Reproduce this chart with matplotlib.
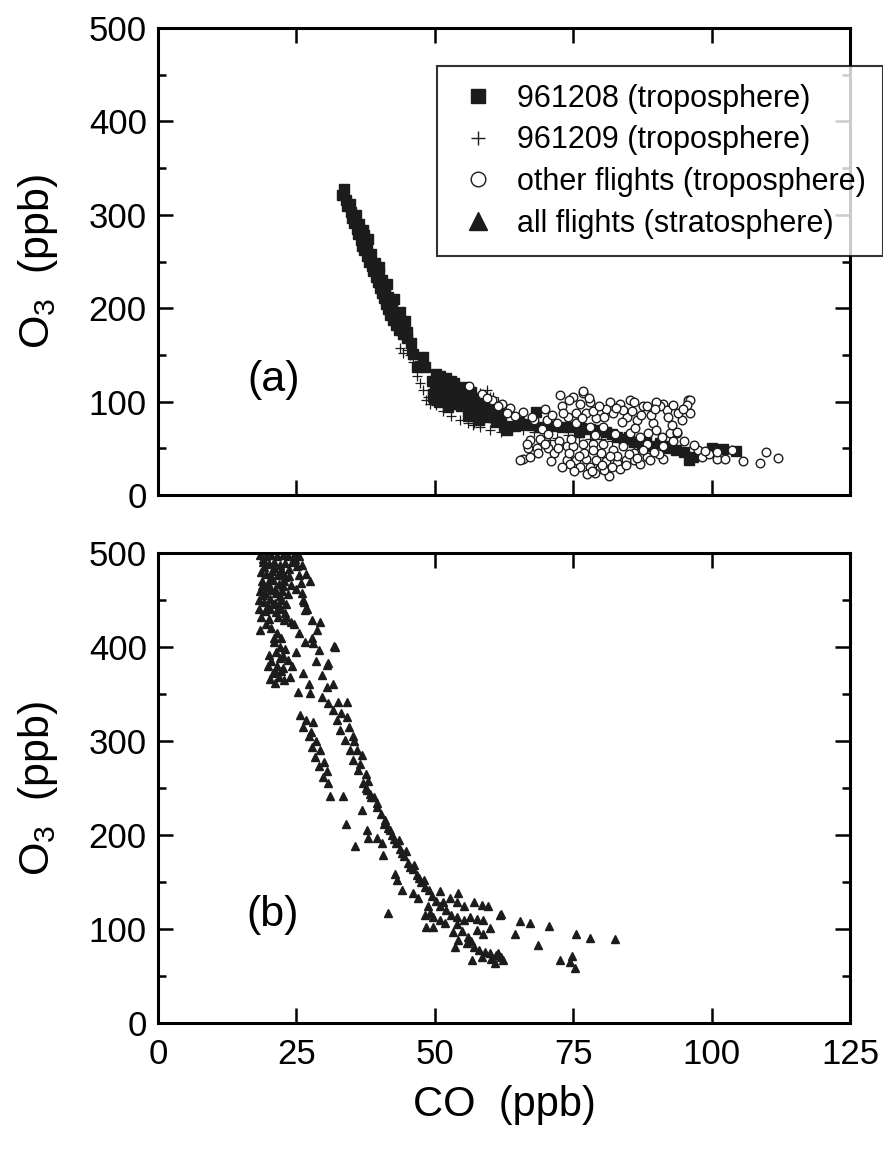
import numpy as np
import matplotlib
matplotlib.use("Agg")
from matplotlib import pyplot as plt
from matplotlib.lines import Line2D
from matplotlib.ticker import MultipleLocator

plt.rcParams['font.family'] = ['Liberation Sans', 'DejaVu Sans']
plt.rcParams['mathtext.fontset'] = 'custom'
plt.rcParams['mathtext.rm'] = 'Liberation Sans'

# (a) troposphere, flight 961208: (CO, O3) in ppb
sq_961208 = [
    (33.6, 328), (33.2, 321), (34.0, 316), (34.2, 309), (34.8, 303), (35.0, 297),
    (35.4, 291), (35.9, 285), (36.2, 280), (36.6, 273), (36.9, 267), (37.3, 262),
    (37.7, 256), (38.2, 250), (38.6, 245), (38.9, 240), (39.3, 234), (39.8, 228),
    (40.1, 222), (40.5, 216), (40.8, 211), (41.2, 205), (41.6, 199), (42.0, 193),
    (42.5, 187), (43.0, 182), (43.6, 177), (44.2, 172), (44.9, 168), (45.7, 163),
    (46.1, 151), (47.9, 148), (47.3, 138), (46.8, 137), (48.2, 137),
    (35.8, 300), (36.4, 290), (37.2, 278), (37.8, 268), (38.5, 258), (39.2, 248),
    (39.9, 238), (40.4, 230), (41.0, 220), (41.6, 212), (42.3, 203), (42.8, 195),
    (43.5, 188), (44.3, 180), (45.0, 175),
    (50.3, 130), (49.5, 122), (50.0, 115), (49.6, 108), (50.8, 112), (51.2, 120),
    (51.8, 104), (52.0, 125), (52.5, 116), (52.9, 108), (53.2, 98), (53.5, 120),
    (54.0, 112), (54.2, 103), (54.8, 95), (55.0, 116), (55.4, 108), (55.8, 100),
    (56.2, 92), (56.6, 110), (57.0, 102), (57.3, 95), (57.7, 88), (58.1, 104),
    (58.5, 96), (58.9, 90), (59.3, 84), (59.8, 97), (60.2, 90), (60.6, 84),
    (61.0, 78), (61.5, 88), (62.0, 80), (62.5, 74), (63.0, 70), (50.8, 100),
    (52.3, 94), (49.9, 103), (51.0, 127), (53.0, 122), (56.0, 85), (58.0, 80),
    (66.0, 76), (67.5, 75), (69.0, 73), (68.3, 89), (71.0, 74), (73.0, 73),
    (74.4, 73), (76.5, 72), (78.0, 71), (79.3, 70), (81.0, 68), (83.0, 62),
    (84.5, 60), (86.0, 57), (87.5, 55), (89.0, 52), (90.7, 56), (92.0, 50),
    (93.5, 48), (95.0, 46), (96.6, 41), (96.0, 37), (98.0, 44), (100.0, 50),
    (102.0, 49), (104.5, 47), (34.6, 312), (37.0, 284), (38.0, 274), (40.0, 244),
    (41.4, 226), (42.6, 210), (43.8, 196), (44.6, 186), (64.5, 74), (65.2, 78),
    (76.0, 68), (82.0, 65), (85.0, 62), (88.2, 58), (91.5, 53),
]

# (a) troposphere, flight 961209
cross_961209 = [
    (43.7, 157), (44.9, 155), (44.3, 152), (45.5, 150), (46.0, 142), (46.7, 127),
    (47.3, 120), (47.8, 113), (48.5, 102), (49.1, 98), (48.8, 105), (50.2, 96),
    (51.5, 90), (53.0, 85), (54.5, 80), (56.0, 77), (56.9, 75), (58.2, 73),
    (59.4, 112), (60.6, 105), (58.2, 109), (60.0, 105), (61.5, 100), (62.5, 96),
    (57.0, 77), (60.0, 70), (62.0, 68), (64.0, 72), (66.0, 70), (68.0, 68),
    (70.8, 59), (72.0, 61), (74.0, 64), (76.0, 62), (78.0, 60), (80.0, 60),
    (82.0, 58), (84.0, 56), (86.0, 54),
]

# (a) troposphere, other flights
circ_other = [
    (56.2, 117), (60.3, 102), (62.1, 98), (63.6, 93), (66.0, 89), (69.3, 71),
    (70.2, 80), (71.1, 86), (72.0, 77), (72.6, 107), (67.2, 59), (66.9, 50),
    (66.0, 39), (67.2, 41), (68.4, 50), (70.5, 50), (73.8, 52), (75.0, 105),
    (76.8, 109), (76.2, 98), (78.0, 100), (75.6, 88), (77.4, 88), (79.2, 82),
    (75.6, 77), (78.0, 73), (80.4, 73), (82.2, 88), (81.6, 100), (83.5, 98),
    (84.7, 84), (86.5, 80), (87.7, 95), (85.3, 66), (87.1, 62), (75.0, 52),
    (76.8, 55), (78.6, 55), (80.4, 55), (82.2, 48), (84.0, 52), (73.8, 38),
    (75.6, 38), (77.4, 39), (79.2, 38), (81.0, 36), (76.2, 30), (78.0, 30),
    (79.8, 29), (82.9, 34), (85.9, 38), (88.3, 41), (76.8, 111), (81.4, 20),
    (65.4, 38), (66.6, 55), (95.8, 102), (96.1, 88), (92.5, 66), (93.7, 66),
    (91.3, 98), (85.3, 102), (88.3, 95), (96.1, 102), (95.5, 96), (94.6, 80),
    (93.7, 68), (92.8, 75), (91.9, 91), (93.1, 96), (90.7, 95), (89.5, 77),
    (90.0, 70), (88.3, 55), (91.3, 52), (91.3, 39), (88.9, 38), (97.6, 48),
    (98.2, 41), (100.9, 39), (102.4, 39), (103.6, 48), (105.7, 36), (108.7, 34),
    (109.9, 46), (112.0, 40), (79.0, 24), (80.5, 27), (83.5, 28), (77.0, 45),
    (80.0, 45), (83.0, 42), (86.0, 45), (74.0, 84), (78.5, 90), (81.0, 92),
    (84.0, 91), (86.0, 100), (89.0, 86), (90.0, 100), (73.0, 95), (70.0, 92),
    (68.0, 80), (64.5, 85), (61.5, 95), (58.5, 108), (71.5, 45), (69.0, 60),
    (72.5, 58), (74.5, 33), (77.5, 22), (84.5, 38), (87.0, 33), (90.5, 44),
    (94.0, 88), (95.0, 58), (99.5, 44), (101.0, 46), (71.0, 36), (82.5, 65),
    (74.2, 102), (77.8, 104), (79.6, 95), (82.8, 93), (85.6, 90), (87.2, 86),
    (89.8, 92), (92.2, 84), (94.8, 92), (73.2, 88), (76.6, 82), (80.6, 84),
    (83.8, 78), (86.2, 72), (88.6, 66), (91.0, 62), (79.0, 64), (74.6, 60),
    (72.2, 50), (74.2, 45), (76.0, 42), (78.6, 48), (81.6, 42), (85.0, 44),
    (87.6, 48), (89.6, 46), (73.0, 30), (75.2, 26), (78.4, 26), (80.2, 32),
    (82.0, 30), (84.6, 32), (86.6, 40), (70.0, 55), (68.6, 45), (70.4, 65),
    (63.0, 88), (59.5, 104), (67.6, 84), (93.0, 58), (96.8, 54), (98.8, 47),
]

# (b) stratosphere, all flights
tri_strat = [
    (18.5, 498), (19.5, 497), (20.5, 498), (21.5, 497), (22.5, 498), (23.5, 497),
    (24.5, 498), (25.5, 497), (19.0, 490), (20.0, 488), (21.0, 490), (22.0, 487),
    (23.0, 489), (24.3, 490), (25.2, 486), (18.6, 480), (19.6, 478), (20.6, 481),
    (21.6, 477), (22.6, 479), (23.6, 476), (25.5, 477), (18.8, 470), (19.8, 468),
    (20.8, 471), (21.8, 467), (22.8, 470), (24.0, 466), (25.8, 468), (18.4, 460),
    (19.4, 458), (20.4, 461), (21.4, 457), (22.4, 460), (23.4, 456), (26.0, 458),
    (18.2, 450), (19.2, 448), (20.2, 451), (21.2, 447), (22.2, 450), (23.2, 446),
    (26.4, 448), (18.3, 440), (19.3, 438), (20.3, 441), (21.3, 437), (22.3, 440),
    (23.0, 436), (27.0, 441), (18.7, 432), (20.0, 430), (21.6, 432), (22.8, 429),
    (24.0, 427), (18.4, 418), (19.6, 425), (23.2, 432), (19.0, 494), (21.0, 484),
    (23.0, 474), (20.0, 464), (22.0, 454), (19.8, 444), (21.8, 444),
    (19.2, 485), (20.4, 475), (22.2, 482), (21.2, 462), (19.0, 455), (22.6, 465),
    (20.8, 446), (18.8, 465), (23.6, 483), (24.8, 494),
    (20.5, 420), (21.5, 415), (22.3, 410), (21.0, 405), (22.0, 400), (21.3, 395),
    (22.5, 390), (20.5, 385), (21.5, 380), (22.5, 378), (20.8, 372), (21.8, 368),
    (22.8, 365), (20.3, 366), (21.2, 362), (22.2, 375), (20.1, 392), (23.0, 398),
    (23.5, 386), (19.8, 380), (21.0, 410), (22.0, 388), (21.2, 374),
    (26.0, 487), (27.5, 470), (26.2, 450), (26.6, 439), (29.3, 427), (28.7, 418),
    (27.8, 410), (29.0, 397), (32.0, 400), (30.5, 381), (29.6, 370), (31.7, 361),
    (30.5, 358), (27.2, 361), (25.3, 352), (27.5, 351), (29.6, 347), (30.8, 340),
    (32.6, 342), (34.1, 342), (27.8, 429), (28.0, 404), (30.8, 383), (31.8, 401),
    (24.5, 425), (25.5, 415), (26.5, 405), (25.0, 395), (24.2, 380), (23.8, 368),
    (26.2, 372), (28.5, 385), (25.0, 462), (26.8, 478),
    (25.7, 328), (26.2, 315), (27.2, 305), (27.8, 294), (28.4, 283), (29.0, 273),
    (29.9, 262), (30.8, 255), (31.1, 241), (33.5, 241), (26.8, 322), (27.6, 310),
    (28.5, 300), (29.2, 290), (30.0, 278), (30.5, 268), (28.0, 320),
    (31.7, 333), (32.3, 322), (32.9, 312), (33.8, 301), (34.7, 290), (35.3, 280),
    (36.2, 269), (37.1, 255), (38.3, 244), (39.5, 234), (34.1, 326), (35.2, 305),
    (35.9, 290), (36.5, 276), (33.0, 330), (34.5, 315), (35.5, 300), (36.8, 285),
    (37.5, 265), (38.0, 258), (37.8, 248), (39.0, 240),
    (37.5, 250), (38.5, 240), (39.5, 230), (40.2, 222), (41.0, 216), (41.6, 208),
    (42.3, 200), (43.0, 192), (43.8, 185), (44.5, 178), (45.2, 170), (46.0, 164),
    (46.8, 157), (47.5, 150), (48.3, 145), (49.0, 141), (42.0, 205), (43.5, 195),
    (44.8, 183), (46.3, 168), (48.0, 152), (40.8, 212), (42.7, 196), (44.1, 181),
    (45.6, 166), (47.2, 154),
    (36.8, 227), (34.0, 212), (37.7, 205), (38.0, 197), (39.5, 197), (40.4, 191),
    (35.6, 188), (40.7, 179), (42.8, 159), (43.1, 152), (44.0, 142), (46.1, 138),
    (47.0, 133), (41.6, 117), (48.8, 124), (49.1, 117), (48.2, 115),
    (50.9, 140), (54.2, 138), (51.5, 129), (52.7, 133), (54.0, 129), (55.2, 124),
    (57.0, 129), (58.5, 126), (59.7, 124), (61.8, 115), (49.7, 113), (50.9, 110),
    (48.5, 102), (49.7, 102), (51.8, 106), (54.0, 113), (55.2, 110), (56.4, 113),
    (57.6, 111), (58.8, 110), (57.6, 99), (58.8, 95), (60.0, 101), (53.3, 97),
    (54.2, 88), (55.8, 85), (53.7, 81), (57.0, 81), (58.0, 78), (59.0, 76),
    (60.0, 74), (61.0, 72), (62.0, 70), (62.3, 67), (58.5, 70), (60.2, 68),
    (61.5, 75), (56.7, 67), (60.9, 64), (64.5, 95), (65.4, 108), (67.2, 106),
    (68.7, 83), (70.7, 103), (72.6, 67), (74.7, 71), (74.4, 65), (75.3, 58),
    (75.6, 95), (78.0, 90), (82.6, 89), (61.9, 116),
    (49.5, 135), (50.2, 130), (51.0, 125), (52.0, 120), (53.0, 115), (54.0, 105),
    (55.0, 98), (56.0, 92), (56.5, 87),
]

ink = '#1c1c1c'
labels = ['961208 (troposphere)', '961209 (troposphere)',
          'other flights (troposphere)', 'all flights (stratosphere)']

fig = plt.figure(figsize=(8.83, 11.51), dpi=100)
ax1 = fig.add_axes([0.1789, 0.5699, 0.7837, 0.4057])
ax2 = fig.add_axes([0.1789, 0.1112, 0.7837, 0.4083])

sq = np.array(sq_961208).T
cr = np.array(cross_961209).T
ci = np.array(circ_other).T
tr = np.array(tri_strat).T

ax1.plot(sq[0], sq[1], 's', ms=7, color=ink, mec=ink, ls='none')
ax1.plot(cr[0], cr[1], '+', ms=7, color=ink, mew=0.9, ls='none')
ax1.plot(ci[0], ci[1], 'o', ms=6.2, mfc='white', mec=ink, mew=1.0, ls='none')
ax2.plot(tr[0], tr[1], '^', ms=5.5, color=ink, mec=ink, ls='none')

for ax in (ax1, ax2):
    ax.set_xlim(0, 125)
    ax.set_ylim(0, 500)
    ax.xaxis.set_major_locator(MultipleLocator(25))
    ax.yaxis.set_major_locator(MultipleLocator(100))
    ax.yaxis.set_minor_locator(MultipleLocator(50))
    ax.tick_params(which='both', direction='in', top=True, right=True,
                   width=1.8, labelsize=25)
    ax.tick_params(axis='y', pad=8)
    ax.tick_params(axis='x', pad=11)
    ax.tick_params(which='major', length=11)
    ax.tick_params(which='minor', length=6)
    for s in ax.spines.values():
        s.set_linewidth(2.2)
    ax.set_ylabel('O$_3$  (ppb)', fontsize=31)
    ax.yaxis.set_label_coords(-0.142, 0.5)

ax1.tick_params(axis='x', labelbottom=False)
ax2.set_xlabel('CO  (ppb)', fontsize=30, labelpad=10)

ax1.text(16.1, 123, '(a)', fontsize=31, ha='left', va='center')
ax2.text(16.0, 115, '(b)', fontsize=31, ha='left', va='center')

handles = [
    Line2D([], [], marker='s', ls='none', ms=10, color=ink),
    Line2D([], [], marker='+', ls='none', ms=10, color=ink, mew=1.0),
    Line2D([], [], marker='o', ls='none', ms=10.5, mfc='white', mec=ink, mew=1.0),
    Line2D([], [], marker='^', ls='none', ms=13, color=ink),
]
leg = fig.legend(handles, labels, loc='upper left',
                 bbox_to_anchor=(437 / 883, 1 - 66 / 1151), borderaxespad=0,
                 fontsize=22, frameon=True, fancybox=False, borderpad=0.58,
                 labelspacing=0.38, handlelength=1.5, handletextpad=0.53)
leg.get_frame().set_edgecolor('black')
leg.get_frame().set_linewidth(1.5)

fig.savefig('out.png', dpi=100)
